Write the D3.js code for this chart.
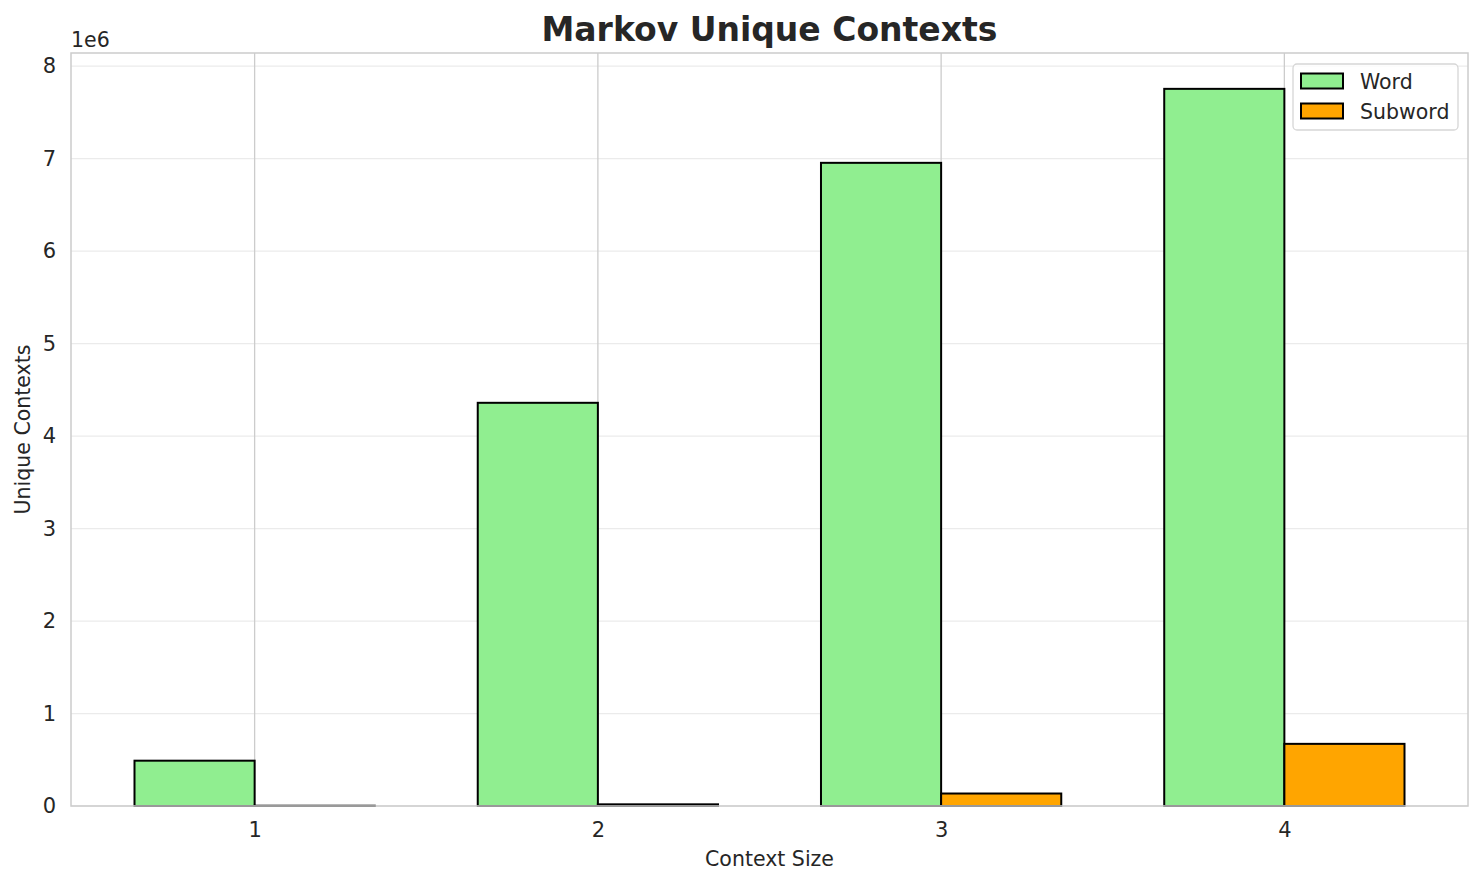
<!DOCTYPE html>
<html>
<head>
<meta charset="utf-8">
<script src="https://cdn.jsdelivr.net/npm/d3@7"></script>
<style>
  body { margin: 0; background: #fff; }
  text { font-family: "DejaVu Sans", sans-serif; fill: #262626; }
</style>
</head>
<body>
<script>
// chart data
const contextSizes = [1, 2, 3, 4];
const wordContexts = [490000, 4360000, 6955000, 7755000];
const subwordContexts = [3000, 18000, 135000, 672000];
const yTicks = [0, 1, 2, 3, 4, 5, 6, 7, 8];
const seriesNames = ["Word", "Subword"];
const seriesColors = ["#90EE90", "#FFA500"];

const W = 1484, H = 885;
const margin = { top: 53, right: 16, bottom: 79, left: 71 };
const barWidth = 0.35;

const svg = d3.select("body").append("svg")
    .attr("width", W)
    .attr("height", H);

// matplotlib style 5% margins around the bars
const xMin = contextSizes[0] - barWidth, xMax = contextSizes[3] + barWidth;
const pad = (xMax - xMin) * 0.05;
const xScale = d3.scaleLinear()
    .domain([xMin - pad, xMax + pad])
    .range([margin.left, W - margin.right]);

const yMax = d3.max(wordContexts) * 1.05;
const yScale = d3.scaleLinear()
    .domain([0, yMax])
    .range([H - margin.bottom, margin.top]);

// horizontal grid (light)
svg.append("g")
    .selectAll("line")
    .data(yTicks)
    .join("line")
    .attr("x1", margin.left).attr("x2", W - margin.right)
    .attr("y1", d => yScale(d * 1e6)).attr("y2", d => yScale(d * 1e6))
    .attr("stroke", "#ebebeb")
    .attr("stroke-width", 1.3);

// vertical grid
svg.append("g")
    .selectAll("line")
    .data(contextSizes)
    .join("line")
    .attr("x1", d => xScale(d)).attr("x2", d => xScale(d))
    .attr("y1", margin.top).attr("y2", H - margin.bottom)
    .attr("stroke", "#cccccc")
    .attr("stroke-width", 1.3);

// bars
const series = [wordContexts, subwordContexts];
series.forEach((vals, i) => {
    svg.append("g")
        .selectAll("rect")
        .data(contextSizes)
        .join("rect")
        .attr("x", d => xScale(d - barWidth + i * barWidth))
        .attr("width", xScale(barWidth) - xScale(0))
        .attr("y", (d, j) => yScale(vals[j]))
        .attr("height", (d, j) => yScale(0) - yScale(vals[j]))
        .attr("fill", seriesColors[i])
        .attr("stroke", "#000")
        .attr("stroke-width", 2);
});

// spines
svg.append("rect")
    .attr("x", margin.left).attr("y", margin.top)
    .attr("width", W - margin.right - margin.left)
    .attr("height", H - margin.bottom - margin.top)
    .attr("fill", "none")
    .attr("stroke", "#cccccc")
    .attr("stroke-width", 1.5);

// axes
const xAxis = d3.axisBottom(xScale)
    .tickValues(contextSizes)
    .tickFormat(d3.format("d"))
    .tickSize(0).tickPadding(16);
const gx = svg.append("g")
    .attr("transform", "translate(0," + (H - margin.bottom) + ")")
    .call(xAxis);
gx.select(".domain").remove();
gx.selectAll("text").style("font-size", "21px").attr("fill", "#262626");

const yAxis = d3.axisLeft(yScale)
    .tickValues(yTicks.map(d => d * 1e6))
    .tickFormat(d => d / 1e6)
    .tickSize(0).tickPadding(15);
const gy = svg.append("g")
    .attr("transform", "translate(" + margin.left + ",0)")
    .call(yAxis);
gy.select(".domain").remove();
gy.selectAll("text").style("font-size", "21px").attr("fill", "#262626");

// offset text
svg.append("text")
    .attr("x", margin.left).attr("y", 47)
    .style("font-size", "20.5px")
    .text("1e6");

// title and labels
svg.append("text")
    .attr("x", (margin.left + W - margin.right) / 2).attr("y", 41)
    .attr("text-anchor", "middle")
    .style("font-size", "33px").style("font-weight", "bold")
    .text("Markov Unique Contexts");

svg.append("text")
    .attr("x", (margin.left + W - margin.right) / 2).attr("y", 866)
    .attr("text-anchor", "middle")
    .style("font-size", "20.5px")
    .text("Context Size");

svg.append("text")
    .attr("transform", "translate(30," + ((margin.top + H - margin.bottom) / 2) + ") rotate(-90)")
    .attr("text-anchor", "middle")
    .style("font-size", "20.5px")
    .text("Unique Contexts");

// legend
const lg = svg.append("g").attr("transform", "translate(1293,64)");
lg.append("rect")
    .attr("width", 165).attr("height", 66)
    .attr("rx", 4)
    .attr("fill", "#fff").attr("fill-opacity", 0.8)
    .attr("stroke", "#d6d6d6").attr("stroke-width", 1.3);
seriesNames.forEach((name, i) => {
    lg.append("rect")
        .attr("x", 8).attr("y", 9.5 + i * 30)
        .attr("width", 42).attr("height", 15)
        .attr("fill", seriesColors[i])
        .attr("stroke", "#000").attr("stroke-width", 2);
    lg.append("text")
        .attr("x", 67).attr("y", 24.5 + i * 30)
        .style("font-size", "20.5px")
        .text(name);
});
</script>
</body>
</html>
